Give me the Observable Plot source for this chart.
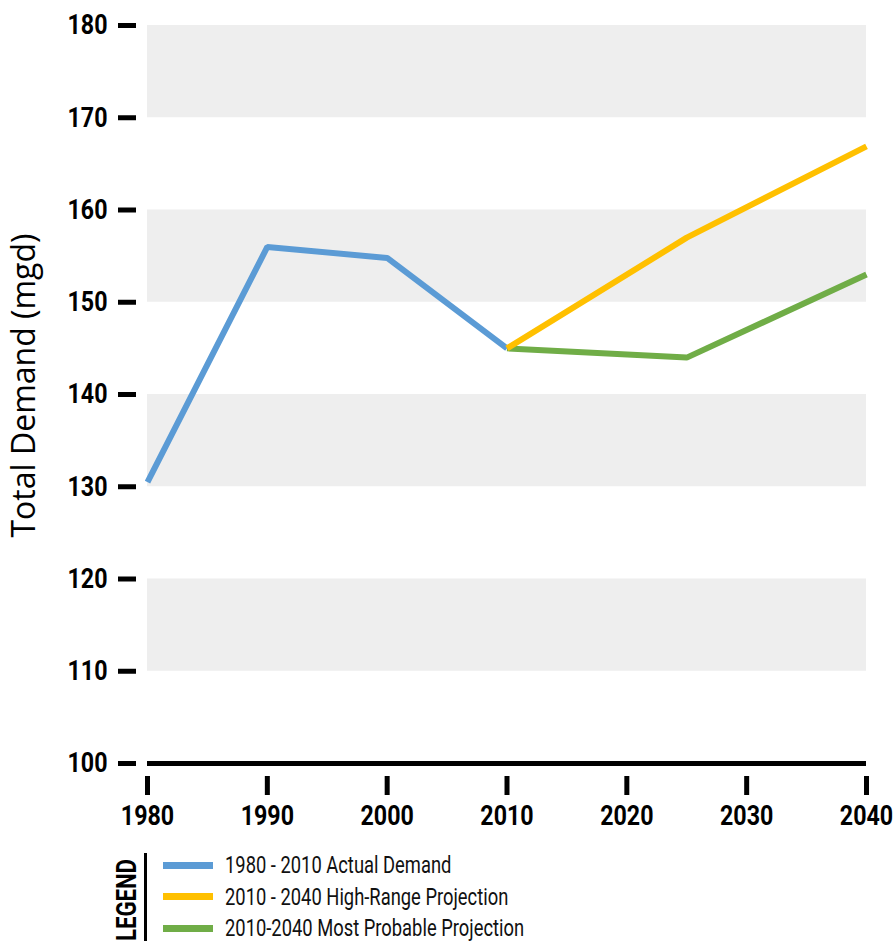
<!DOCTYPE html>
<html>
<head>
<meta charset="utf-8">
<script src="https://cdn.jsdelivr.net/npm/d3@7"></script>
<script src="https://cdn.jsdelivr.net/npm/@observablehq/plot@0.6"></script>
<style>
  html, body { margin: 0; padding: 0; background: #fff; }
  #chart { width: 893px; }
  .legend { position: relative; height: 96px; width: 893px; font-family: Roboto, "Liberation Sans", sans-serif; }
  .legend .title { position: absolute; left: 116px; top: 15px; width: 22px; height: 80px; }
  .legend .title span { position: absolute; left: 50%; top: 50%; transform: translate(-50%, -50%) rotate(-90deg) scaleX(0.82); font-weight: bold; font-size: 27px; line-height: 27px; white-space: nowrap; color: #000; }
  .legend .bar { position: absolute; left: 144px; top: 8px; width: 3px; height: 88px; background: #000; }
  .legend .row { position: absolute; left: 163px; display: flex; align-items: center; height: 22px; }
  .legend .sw { width: 50px; height: 7px; margin-right: 12px; flex: none; }
  .legend .lab { font-size: 24px; line-height: 22px; color: #111; white-space: nowrap; transform: scaleX(0.765); transform-origin: left center; }
</style>
</head>
<body>
<div id="chart"></div>
<script>
const years = [1980, 1990, 2000, 2010, 2020, 2030, 2040];
const yTicks = [100, 110, 120, 130, 140, 150, 160, 170, 180];
const bandLow = [110, 130, 150, 170];
const bandHigh = [120, 140, 160, 180];

const actualYears = [1980, 1990, 2000, 2010];
const actualValues = [130.5, 156.0, 154.8, 145.0];
const highYears = [2010, 2025, 2040];
const highValues = [145.0, 157.0, 166.9];
const probableYears = [2010, 2025, 2040];
const probableValues = [145.0, 144.0, 153.0];

const seriesNames = ["1980 - 2010 Actual Demand", "2010 - 2040 High-Range Projection", "2010-2040 Most Probable Projection"];
const seriesColors = ["#5b9bd5", "#ffc000", "#70ad47"];
const yLabel = "Total Demand (mgd)";
const legendTitle = "LEGEND";

const bands = bandLow.map((lo, i) => ({lo, hi: bandHigh[i]}));
const actual = actualYears.map((x, i) => ({x, y: actualValues[i]}));
const high = highYears.map((x, i) => ({x, y: highValues[i]}));
const probable = probableYears.map((x, i) => ({x, y: probableValues[i]}));

const boldFont = "Roboto, 'Liberation Sans', sans-serif";

const chart = Plot.plot({
  width: 893,
  height: 845,
  marginLeft: 147,
  marginRight: 27,
  marginTop: 25,
  marginBottom: 82,
  style: {fontFamily: boldFont, background: "#fff"},
  x: {domain: [1980, 2040], ticks: years},
  y: {domain: [100, 180], ticks: yTicks},
  marks: [
    Plot.rectY(bands, {x1: 1980, x2: 2040, y1: "lo", y2: "hi", fill: "#eeeeee"}),
    Plot.ruleY([100], {x1: 1980, x2: 2040, stroke: "#000", strokeWidth: 5}),
    Plot.axisY({ticks: yTicks, tickSize: 18, tickPadding: 11, dx: -11, strokeWidth: 5, stroke: "#000",
      fontSize: 28, fontWeight: "bold", fill: "#000", label: null, tickFormat: d => String(d)}),
    Plot.axisX({ticks: years, tickSize: 19, tickPadding: 10, dy: 13, strokeWidth: 5, stroke: "#000",
      fontSize: 28, fontWeight: "bold", fill: "#000", label: null, tickFormat: d => String(d)}),
    Plot.text([yLabel], {frameAnchor: "left", textAnchor: "middle", rotate: -90, dx: -123, dy: -9, fontSize: 32,
      fontFamily: "'Open Sans', 'Noto Sans', sans-serif", fill: "#000"}),
    Plot.line(probable, {x: "x", y: "y", stroke: seriesColors[2], strokeWidth: 6, strokeLinecap: "butt", strokeLinejoin: "miter"}),
    Plot.line(actual, {x: "x", y: "y", stroke: seriesColors[0], strokeWidth: 6, strokeLinecap: "butt", strokeLinejoin: "miter"}),
    Plot.line(high, {x: "x", y: "y", stroke: seriesColors[1], strokeWidth: 6, strokeLinecap: "butt", strokeLinejoin: "miter"})
  ]
});
document.getElementById("chart").appendChild(chart);

// condense the bold tick labels horizontally (no condensed font installed)
d3.select(chart).selectAll("g[aria-label='x-axis tick label'] text, g[aria-label='y-axis tick label'] text").each(function() {
  const t = this.getAttribute("transform");
  if (t) {
    this.setAttribute("transform", t + " scale(0.83,1)");
  } else {
    const x = +this.getAttribute("x") || 0, y = +this.getAttribute("y") || 0;
    this.removeAttribute("x"); this.removeAttribute("y");
    this.setAttribute("transform", `translate(${x},${y}) scale(0.83,1)`);
  }
});

const legend = document.createElement("div");
legend.className = "legend";
legend.innerHTML = `<div class="title"><span>${legendTitle}</span></div><div class="bar"></div>` +
  seriesNames.map((n, i) => `<div class="row" style="top:${9 + i * 31.5}px"><div class="sw" style="background:${seriesColors[i]}"></div><div class="lab">${n}</div></div>`).join("");
document.getElementById("chart").appendChild(legend);
</script>
</body>
</html>
